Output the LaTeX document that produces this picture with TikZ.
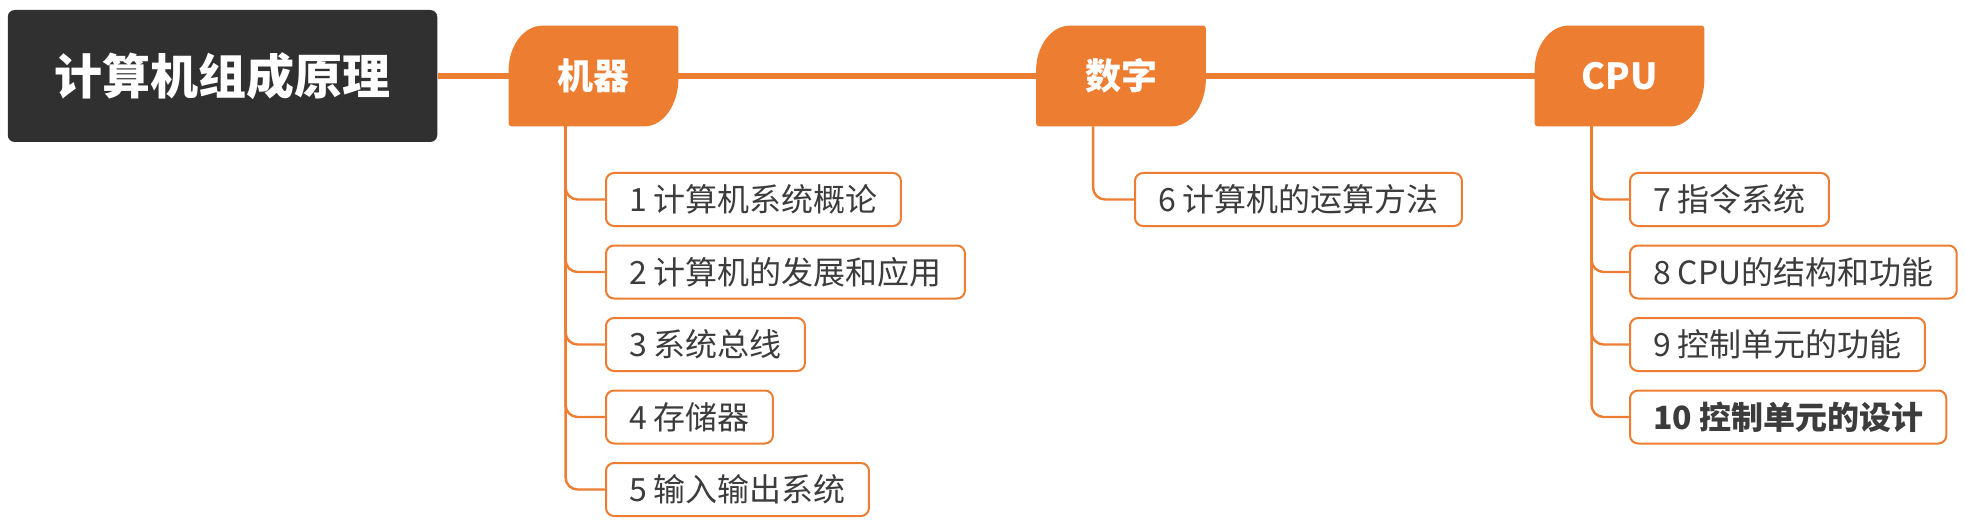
\documentclass[tikz,border=0pt]{standalone}
\usepackage{fontspec}
\setmainfont{Noto Sans CJK SC}
\usetikzlibrary{backgrounds}
\definecolor{acc}{HTML}{ED7D31}
\definecolor{rootc}{HTML}{303030}
\definecolor{txt}{HTML}{3C3C3C}
\newcommand\leafshape[1]{%
  \fill[acc] ([yshift=1.5pt]#1.south west) -- ([yshift=-22.5pt]#1.north west)
    arc[start angle=180, end angle=90, x radius=17pt, y radius=22.5pt]
    -- ([xshift=-1.5pt]#1.north east)
    arc[start angle=90, end angle=0, radius=1.5pt]
    -- ([yshift=24pt]#1.south east)
    arc[start angle=0, end angle=-90, x radius=17pt, y radius=24pt]
    -- ([xshift=1.5pt]#1.south west)
    arc[start angle=270, end angle=180, radius=1.5pt] -- cycle;}
\tikzset{
  rootbox/.style={fill=rootc, rounded corners=3.5pt, minimum width=214.75pt, minimum height=66pt,
    text=white, font=\fontsize{24pt}{28pt}\selectfont\bfseries, inner sep=0pt},
  topic/.style={minimum width=84.5pt, minimum height=50pt, inner sep=0pt, text=white,
    font=\fontsize{18pt}{22pt}\selectfont\bfseries},
  sub/.style={draw=acc, line width=1pt, rounded corners=4pt, fill=white, text=txt,
    font=\fontsize{16pt}{19pt}\selectfont, minimum height=26.5pt, inner xsep=11.5pt,
    inner ysep=0pt, anchor=west},
  mainline/.style={draw=acc, line width=2.8pt},
  branch/.style={draw=acc, line width=1.2pt, rounded corners=6pt}
}
\begin{document}
\begin{tikzpicture}[x=0.5pt, y=-0.5pt]
\useasboundingbox (0,0) rectangle (1966,524);
\node[rootbox] (root) at (222.5,76) {计算机组成原理};
\node[topic] (ji) at (593.5,76) {机器};
\node[topic] (shu) at (1121,76) {数字};
\node[topic] (cpu) at (1619.5,76) {CPU};
\begin{pgfonlayer}{background}
\draw[mainline] (root.east) -- (cpu.west);
\leafshape{ji}
\leafshape{shu}
\leafshape{cpu}
\end{pgfonlayer}
\node[sub] (c1) at (605,199.5) {1 计算机系统概论};
\node[sub] (c2) at (605,272) {2 计算机的发展和应用};
\node[sub] (c3) at (605,344.5) {3 系统总线};
\node[sub] (c4) at (605,417) {4 存储器};
\node[sub] (c5) at (605,489.5) {5 输入输出系统};
\node[sub] (c6) at (1134,199.5) {6 计算机的运算方法};
\node[sub] (c7) at (1629,199.5) {7 指令系统};
\node[sub] (c8) at (1629,272) {8 CPU的结构和功能};
\node[sub] (c9) at (1629,344.5) {9 控制单元的功能};
\node[sub, font=\fontsize{16pt}{19pt}\selectfont\bfseries] (c10) at (1629,417) {10 控制单元的设计};
\foreach \c in {c1,c2,c3,c4,c5}
  \draw[branch] ([xshift=28.5pt]ji.south west) |- (\c.west);
\draw[branch] ([xshift=28.5pt]shu.south west) |- (c6.west);
\foreach \c in {c7,c8,c9,c10}
  \draw[branch] ([xshift=28.5pt]cpu.south west) |- (\c.west);
\end{tikzpicture}
\end{document}
